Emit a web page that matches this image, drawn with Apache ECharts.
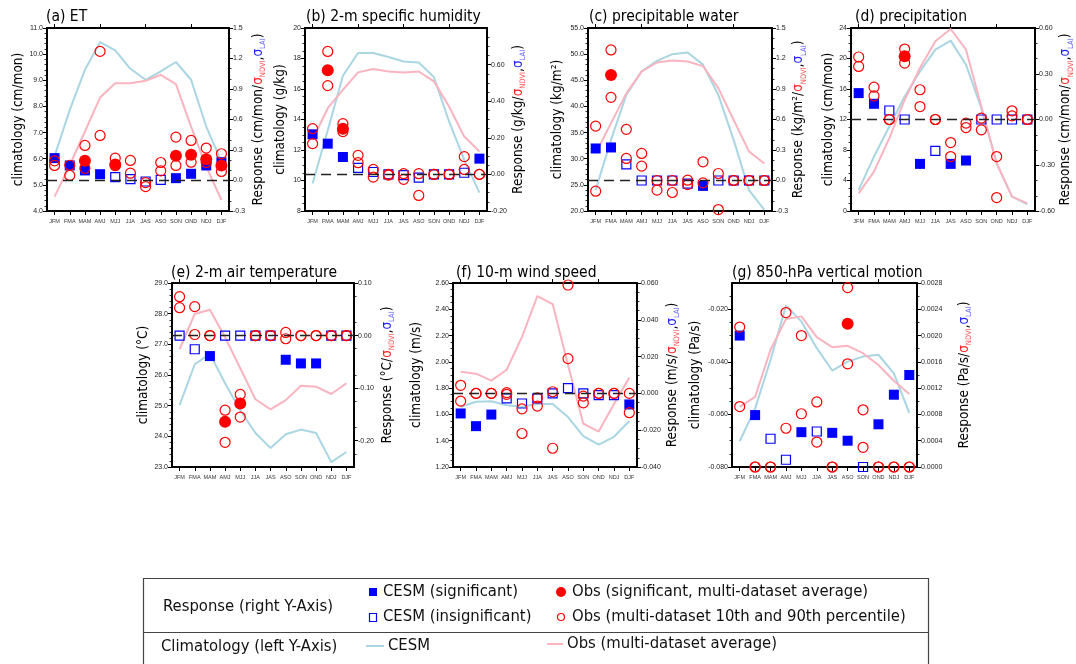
<!DOCTYPE html>
<html>
<head>
<meta charset="utf-8">
<script src="https://cdn.jsdelivr.net/npm/echarts@6/dist/echarts.min.js"></script>
<style>
  html, body { margin: 0; padding: 0; background: #fff; }
  #chart { width: 1076px; height: 664px; }
</style>
</head>
<body>
<div id="chart"></div>
<script>
// 三个月滑动季节
const months = ['JFM', 'FMA', 'MAM', 'AMJ', 'MJJ', 'JJA', 'JAS', 'ASO', 'SON', 'OND', 'NDJ', 'DJF'];

// (a) ET
const etCesmClim = [6.1, 7.87, 9.4, 10.46, 10.14, 9.44, 9.02, 9.34, 9.7, 9.02, 7.23, 5.89];
const etObsClim = [4.55, 5.75, 7.04, 8.34, 8.89, 8.89, 8.98, 9.21, 8.85, 7.23, 5.7, 4.42];
const etCesmResp = [0.22, 0.148, 0.099, 0.062, 0.033, 0.013, -0.01, 0.007, 0.023, 0.066, 0.148, 0.18];
const etCesmSig = [1, 1, 1, 1, 0, 0, 0, 0, 1, 1, 1, 1];
const etObsMean = [null, null, 0.194, null, 0.158, null, null, null, 0.243, 0.253, 0.21, 0.148];
const etObsP10 = [0.148, 0.05, 0.12, 0.443, 0.145, 0.072, -0.06, 0.095, 0.148, 0.18, 0.177, 0.089];
const etObsP90 = [0.194, 0.15, 0.345, 1.27, 0.22, 0.197, -0.02, 0.177, 0.427, 0.394, 0.319, 0.263];

// (b) 2-m specific humidity
const qCesmClim = [9.8, 13.3, 16.87, 18.36, 18.36, 18.1, 17.8, 17.74, 16.78, 13.87, 11.35, 9.2];
const qObsClim = [12.66, 14.74, 15.95, 17.09, 17.31, 17.15, 17.09, 17.15, 16.5, 14.85, 12.88, 11.9];
const qCesmResp = [0.219, 0.168, 0.095, 0.036, 0.013, 0, -0.004, -0.018, 0, 0, 0.009, 0.086];
const qCesmSig = [1, 1, 1, 0, 0, 0, 0, 0, 0, 0, 0, 1];
const qObsMean = [null, 0.569, 0.25, null, null, null, null, null, null, null, null, null];
const qObsP10 = [0.168, 0.485, 0.234, 0.064, -0.015, -0.004, -0.027, -0.115, 0, 0, 0.027, 0];
const qObsP90 = [0.25, 0.672, 0.277, 0.104, 0.027, 0, 0.004, 0.004, 0, 0, 0.097, 0];

// (c) precipitable water
const pwCesmClim = [24.0, 33.6, 42.2, 46.7, 48.7, 50.0, 50.3, 48.0, 42.2, 33.6, 24.0, 20.2];
const pwObsClim = [31.0, 36.8, 42.5, 46.7, 48.4, 48.8, 48.6, 47.7, 43.5, 37.4, 31.4, 29.1];
const pwCesmResp = [0.315, 0.325, 0.158, 0, 0, 0, -0.03, -0.053, 0, 0, 0, 0];
const pwCesmSig = [1, 1, 0, 0, 0, 0, 0, 1, 0, 0, 0, 0];
const pwObsMean = [null, 1.038, null, null, null, null, null, null, null, null, null, null];
const pwObsP10 = [-0.105, 0.818, 0.217, 0.141, -0.095, -0.118, -0.04, -0.023, -0.286, 0, 0, 0];
const pwObsP90 = [0.535, 1.284, 0.503, 0.266, 0, 0, 0.003, 0.184, 0.069, 0, 0, 0];

// (d) precipitation
const prCesmClim = [2.76, 7.14, 11.08, 15.02, 18.31, 21.16, 22.34, 19.19, 13.49, 6.26, 1.88, 0.88];
const prObsClim = [2.32, 5.17, 9.55, 14.59, 18.75, 22.25, 23.87, 21.16, 13.71, 6.26, 1.88, 1.0];
const prCesmResp = [0.173, 0.103, 0.059, 0, -0.291, -0.206, -0.291, -0.269, 0, 0, 0, 0];
const prCesmSig = [1, 1, 0, 0, 1, 0, 1, 1, 0, 0, 0, 0];
const prObsMean = [null, null, null, 0.414, null, null, null, null, null, null, null, null];
const prObsP10 = [0.348, 0.155, 0, 0.37, 0.085, 0, -0.243, -0.053, -0.068, -0.512, 0.024, 0];
const prObsP90 = [0.41, 0.212, 0, 0.462, 0.195, 0, -0.151, -0.024, 0.009, -0.243, 0.057, 0];

// (e) 2-m air temperature
const taCesmClim = [25.02, 26.35, 26.69, 25.73, 24.85, 24.11, 23.62, 24.07, 24.22, 24.11, 23.16, 23.49];
const taObsClim = [26.84, 27.99, 28.13, 27.23, 26.22, 25.21, 24.88, 25.18, 25.65, 25.62, 25.38, 25.73];
const taCesmResp = [0, -0.026, -0.039, 0, 0, 0, 0, -0.046, -0.053, -0.053, 0, 0];
const taCesmSig = [0, 0, 1, 0, 0, 0, 0, 1, 1, 1, 0, 0];
const taObsMean = [null, null, null, -0.164, -0.129, null, null, null, null, null, null, null];
const taObsP10 = [0.053, 0.002, 0, -0.203, -0.155, 0, 0, -0.006, 0, 0, 0, 0];
const taObsP90 = [0.074, 0.055, 0, -0.142, -0.112, 0, 0, 0.006, 0, 0, 0, 0];

// (f) 10-m wind speed
const wsCesmClim = [1.658, 1.696, 1.70, 1.67, 1.658, 1.68, 1.68, 1.58, 1.434, 1.37, 1.43, 1.55];
const wsObsClim = [1.925, 1.91, 1.857, 1.94, 2.19, 2.5, 2.44, 1.976, 1.53, 1.47, 1.68, 1.88];
const wsCesmResp = [-0.0109, -0.0178, -0.0115, -0.0027, -0.0055, -0.0027, 0, 0.0029, 0, -0.0009, -0.0009, -0.006];
const wsCesmSig = [1, 1, 1, 0, 0, 0, 0, 0, 0, 0, 0, 1];
const wsObsMean = [null, null, null, null, null, null, null, null, null, null, null, null];
const wsObsP10 = [-0.0042, 0, 0, -0.0005, -0.0218, -0.0069, -0.0298, 0.0189, -0.0051, 0, 0, -0.0105];
const wsObsP90 = [0.0044, 0, 0, 0.0004, -0.0084, -0.0024, 0.0009, 0.0589, -0.0015, 0, 0, 0];

// (g) 850-hPa vertical motion
const omCesmClim = [-0.0702, -0.0577, -0.0393, -0.0186, -0.0246, -0.0348, -0.0433, -0.0399, -0.038, -0.0373, -0.0444, -0.0594];
const omObsClim = [-0.0571, -0.0533, -0.0354, -0.0237, -0.0227, -0.0306, -0.0344, -0.0339, -0.0367, -0.0412, -0.0472, -0.0522];
const omCesmResp = [0.002, 0.00079, 0.00043, 0.00011, 0.00053, 0.00054, 0.00052, 0.0004, 0, 0.00065, 0.0011, 0.0014];
const omCesmSig = [1, 1, 0, 0, 1, 0, 1, 1, 0, 1, 1, 1];
const omObsMean = [null, null, null, null, null, null, null, 0.00218, null, null, null, null];
const omObsP10 = [0.00092, 0, 0, 0.00059, 0.00081, 0.00038, 0, 0.00157, 0.0003, 0, 0, 0];
const omObsP90 = [0.00213, 0, 0, 0.00235, 0.002, 0.00099, 0, 0.00273, 0.00087, 0, 0, 0];

const NUM_FONT = "'Liberation Sans', Arial, sans-serif";
const TXT_FONT = "'Liberation Sans Narrow', 'DejaVu Sans Condensed', 'Noto Sans', sans-serif";
const C_CESM_LINE = '#a9d6e2';
const C_OBS_LINE = '#f9b4c0';
const C_BLUE = '#0000ff';
const C_RED = '#ff0000';

const panels = [
  { title: '(a) ET', tx: 41, ty: 4, grid: { left: 47, top: 28, width: 182, height: 183 },
    L: { min: 4, max: 11, interval: 1, digits: 1, minor: 5, name: 'climatology (cm/mon)', gap: 22 },
    R: { min: -0.3, max: 1.5, interval: 0.3, digits: 1, minor: 3, unit: 'cm/mon/', gap: 20 },
    d: [etCesmClim, etObsClim, etCesmResp, etCesmSig, etObsMean, etObsP10, etObsP90], zero: true },
  { title: '(b) 2-m specific humidity', tx: 301, ty: 4, grid: { left: 305, top: 28, width: 182, height: 183 },
    L: { min: 8, max: 20, interval: 2, digits: 0, minor: 4, name: 'climatology (g/kg)', gap: 18 },
    R: { min: -0.2, max: 0.8, interval: 0.2, digits: 2, minor: 4, unit: 'g/kg/', gap: 22, labels: [-0.2, 0, 0.2, 0.4, 0.6] },
    d: [qCesmClim, qObsClim, qCesmResp, qCesmSig, qObsMean, qObsP10, qObsP90], zero: true },
  { title: '(c) precipitable water', tx: 584, ty: 4, grid: { left: 588, top: 28, width: 184, height: 183 },
    L: { min: 20, max: 55, interval: 5, digits: 1, minor: 5, name: 'climatology (kg/m²)', gap: 24 },
    R: { min: -0.3, max: 1.5, interval: 0.3, digits: 1, minor: 3, unit: 'kg/m²/', gap: 14 },
    d: [pwCesmClim, pwObsClim, pwCesmResp, pwCesmSig, pwObsMean, pwObsP10, pwObsP90], zero: true },
  { title: '(d) precipitation', tx: 850, ty: 4, grid: { left: 851, top: 28, width: 184, height: 183 },
    L: { min: 0, max: 24, interval: 4, digits: 0, minor: 4, name: 'climatology (cm/mon)', gap: 12 },
    R: { min: -0.6, max: 0.6, interval: 0.3, digits: 2, minor: 3, unit: 'cm/mon/', gap: 20 },
    d: [prCesmClim, prObsClim, prCesmResp, prCesmSig, prObsMean, prObsP10, prObsP90], zero: true },
  { title: '(e) 2-m air temperature', tx: 166, ty: 260, grid: { left: 172, top: 283, width: 182, height: 184 },
    L: { min: 23, max: 29, interval: 1, digits: 1, minor: 5, name: 'climatology (°C)', gap: 20 },
    R: { min: -0.25, max: 0.1, interval: 0.05, digits: 2, minor: 2, unit: '°C/', gap: 24, labels: [-0.2, -0.1, 0, 0.1] },
    d: [taCesmClim, taObsClim, taCesmResp, taCesmSig, taObsMean, taObsP10, taObsP90], zero: true },
  { title: '(f) 10-m wind speed', tx: 451, ty: 260, grid: { left: 453, top: 283, width: 184, height: 184 },
    L: { min: 1.2, max: 2.6, interval: 0.2, digits: 2, minor: 4, name: 'climatology (m/s)', gap: 30 },
    R: { min: -0.04, max: 0.06, interval: 0.02, digits: 3, minor: 4, unit: 'm/s/', gap: 26 },
    d: [wsCesmClim, wsObsClim, wsCesmResp, wsCesmSig, wsObsMean, wsObsP10, wsObsP90], zero: true },
  { title: '(g) 850-hPa vertical motion', tx: 727, ty: 260, grid: { left: 732, top: 283, width: 185, height: 184 },
    L: { min: -0.08, max: -0.01, interval: 0.02, digits: 3, minor: 4, name: 'climatology (Pa/s)', gap: 30, labels: [-0.08, -0.06, -0.04, -0.02] },
    R: { min: 0, max: 0.0028, interval: 0.0004, digits: 4, minor: 2, unit: 'Pa/s/', gap: 38 },
    d: [omCesmClim, omObsClim, omCesmResp, omCesmSig, omObsMean, omObsP10, omObsP90], zero: false }
];

const NAME_SIZE = 13.5;
const rich = {
  b: { fontFamily: TXT_FONT, fontSize: NAME_SIZE, color: '#000', lineHeight: 18 },
  r: { fontFamily: TXT_FONT, fontSize: NAME_SIZE, color: '#ff2020', lineHeight: 18 },
  rs: { fontFamily: TXT_FONT, fontSize: 7.5, color: '#ff5050', verticalAlign: 'bottom', lineHeight: 18 },
  u: { fontFamily: TXT_FONT, fontSize: NAME_SIZE, color: '#2020ff', lineHeight: 18 },
  us: { fontFamily: TXT_FONT, fontSize: 7.5, color: '#6060ff', verticalAlign: 'bottom', lineHeight: 18 }
};

function yAxisOf(cfg, gridIndex, position, isRight) {
  const ax = {
    type: 'value', gridIndex: gridIndex, position: position,
    min: cfg.min, max: cfg.max, interval: cfg.interval,
    axisLine: { show: true, onZero: false, lineStyle: { color: '#000', width: 2 } },
    axisTick: { show: true, inside: false, length: 4, lineStyle: { color: '#000', width: 1 } },
    minorTick: { show: true, splitNumber: cfg.minor, length: 2.5, lineStyle: { color: '#000', width: 0.8 } },
    splitLine: { show: false },
    axisLabel: {
      fontFamily: NUM_FONT, fontSize: 7, color: '#222', margin: 4,
      formatter: v => Number(v).toFixed(cfg.digits)
    },
    nameLocation: 'middle', nameRotate: 90, nameGap: cfg.gap
  };
  if (cfg.labels) {
    ax.axisLabel.customValues = cfg.labels;
    ax.axisTick.customValues = cfg.labels;
  }
  if (isRight) {
    ax.name = '{b|Response (' + cfg.unit + '}{r|σ}{rs|NDVI}{b|,}{u|σ}{us|LAI}{b|)}';
    ax.nameTextStyle = { rich: rich };
  } else {
    ax.name = cfg.name;
    ax.nameTextStyle = { fontFamily: TXT_FONT, fontSize: NAME_SIZE, color: '#000' };
  }
  return ax;
}

const option = {
  animation: false,
  backgroundColor: '#fff',
  title: [], grid: [], xAxis: [], yAxis: [], series: [],
  graphic: []
};

panels.forEach((p, i) => {
  const [cesmClim, obsClim, cesmResp, cesmSig, obsMean, obsP10, obsP90] = p.d;
  option.title.push({ text: p.title, left: p.tx, top: p.ty,
    textStyle: { fontFamily: TXT_FONT, fontSize: 15.5, fontWeight: 'normal', color: '#000' } });
  option.grid.push(Object.assign({ containLabel: false }, p.grid));

  const xBase = {
    type: 'category', gridIndex: i, data: months, boundaryGap: true,
    axisLine: { show: true, onZero: false, lineStyle: { color: '#000', width: 2 } },
    axisTick: { show: true, alignWithLabel: true, length: 4, lineStyle: { color: '#000', width: 1 } },
    splitLine: { show: false }
  };
  option.xAxis.push(Object.assign({}, xBase, { position: 'bottom',
    axisLabel: { fontFamily: NUM_FONT, fontSize: 5.5, color: '#333', margin: 7, interval: 0 } }));
  option.xAxis.push(Object.assign({}, xBase, { position: 'top', axisLabel: { show: false } }));

  option.yAxis.push(yAxisOf(p.L, i, 'left', false));
  option.yAxis.push(yAxisOf(p.R, i, 'right', true));

  const xb = 2 * i, yl = 2 * i, yr = 2 * i + 1;
  const sigPts = [], insigPts = [], pctPts = [], meanPts = [];
  months.forEach((m, k) => {
    if (cesmSig[k]) sigPts.push([k, cesmResp[k]]); else insigPts.push([k, cesmResp[k]]);
    pctPts.push([k, obsP10[k]]);
    pctPts.push([k, obsP90[k]]);
    if (obsMean[k] !== null) meanPts.push([k, obsMean[k]]);
  });

  option.series.push({
    name: 'CESM clim', type: 'line', xAxisIndex: xb, yAxisIndex: yl, data: cesmClim,
    symbol: 'none', lineStyle: { color: C_CESM_LINE, width: 2 }, z: 2
  });
  option.series.push({
    name: 'Obs clim', type: 'line', xAxisIndex: xb, yAxisIndex: yl, data: obsClim,
    symbol: 'none', lineStyle: { color: C_OBS_LINE, width: 2 }, z: 2
  });
  const sigSeries = {
    name: 'CESM sig', type: 'scatter', xAxisIndex: xb, yAxisIndex: yr, data: sigPts,
    symbol: 'rect', symbolSize: 10, itemStyle: { color: C_BLUE, opacity: 1 }, z: 3, clip: false
  };
  if (p.zero) {
    sigSeries.markLine = {
      silent: true, symbol: 'none', label: { show: false },
      lineStyle: { color: '#222', type: [10, 6], width: 1.3, opacity: 1 },
      data: [{ yAxis: 0 }]
    };
  }
  option.series.push(sigSeries);
  option.series.push({
    name: 'CESM insig', type: 'scatter', xAxisIndex: xb, yAxisIndex: yr, data: insigPts,
    symbol: 'rect', symbolSize: 9,
    itemStyle: { color: 'rgba(0,0,0,0)', borderColor: C_BLUE, borderWidth: 1.2, opacity: 1 }, z: 3, clip: false
  });
  option.series.push({
    name: 'Obs pct', type: 'scatter', xAxisIndex: xb, yAxisIndex: yr, data: pctPts,
    symbol: 'circle', symbolSize: 10,
    itemStyle: { color: 'rgba(0,0,0,0)', borderColor: C_RED, borderWidth: 1.2, opacity: 1 }, z: 4, clip: false
  });
  option.series.push({
    name: 'Obs mean', type: 'scatter', xAxisIndex: xb, yAxisIndex: yr, data: meanPts,
    symbol: 'circle', symbolSize: 12, itemStyle: { color: C_RED, opacity: 1 }, z: 5, clip: false
  });
});

// 图例框
const legFont = { fontFamily: TXT_FONT, fontSize: 16.5, fill: '#111', verticalAlign: 'middle', align: 'left' };
const txt = (s, x, y) => ({ type: 'text', silent: true, style: Object.assign({ text: s, x: x, y: y }, legFont) });
option.graphic = [
  { type: 'rect', silent: true, shape: { x: 143.5, y: 578.5, width: 785, height: 100 },
    style: { fill: 'none', stroke: '#444', lineWidth: 1.2 } },
  { type: 'line', silent: true, shape: { x1: 143, y1: 632.5, x2: 928, y2: 632.5 },
    style: { stroke: '#444', lineWidth: 1.2 } },
  txt('Response (right Y-Axis)', 163, 607),
  { type: 'rect', silent: true, shape: { x: 369, y: 588, width: 8, height: 8 }, style: { fill: C_BLUE } },
  txt('CESM (significant)', 383, 592),
  { type: 'rect', silent: true, shape: { x: 369.5, y: 613.5, width: 7, height: 8 },
    style: { fill: 'none', stroke: C_BLUE, lineWidth: 1.2 } },
  txt('CESM (insignificant)', 383, 617),
  { type: 'circle', silent: true, shape: { cx: 561, cy: 592, r: 5 }, style: { fill: C_RED } },
  txt('Obs (significant, multi-dataset average)', 572, 592),
  { type: 'circle', silent: true, shape: { cx: 561, cy: 617, r: 3.5 },
    style: { fill: 'none', stroke: C_RED, lineWidth: 1.2 } },
  txt('Obs (multi-dataset 10th and 90th percentile)', 572, 617),
  txt('Climatology (left Y-Axis)', 161, 647),
  { type: 'line', silent: true, shape: { x1: 366, y1: 646, x2: 384, y2: 646 },
    style: { stroke: C_CESM_LINE, lineWidth: 2 } },
  txt('CESM', 388, 646),
  { type: 'line', silent: true, shape: { x1: 547, y1: 644, x2: 563, y2: 644 },
    style: { stroke: C_OBS_LINE, lineWidth: 2 } },
  txt('Obs (multi-dataset average)', 567, 644)
];

const chart = echarts.init(document.getElementById('chart'), null, { renderer: 'canvas' });
chart.setOption(option);
window.addEventListener('resize', () => chart.resize());
</script>
</body>
</html>
